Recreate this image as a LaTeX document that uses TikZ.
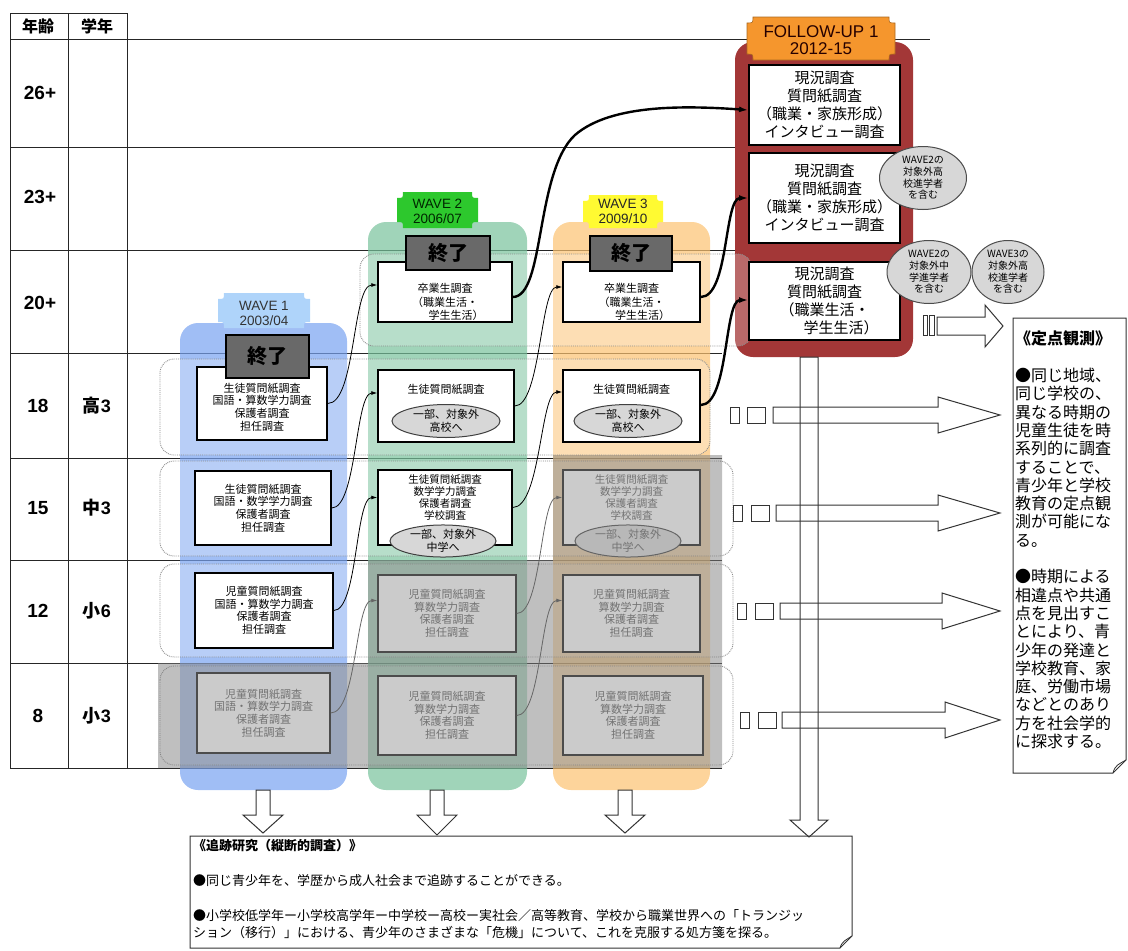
\documentclass[tikz,border=0pt]{standalone}
\usepackage{fontspec}
\setmainfont{Noto Sans CJK JP}
\newfontfamily\latfont{Liberation Sans}
\usetikzlibrary{calc,arrows.meta,shapes.geometric}
\definecolor{bluecol}{RGB}{120,162,241}
\definecolor{greencol}{RGB}{119,194,155}
\definecolor{orangecol}{RGB}{252,194,112}
\definecolor{redcol}{RGB}{163,55,55}
\definecolor{tabblue}{RGB}{175,212,250}
\definecolor{tabgreen}{RGB}{45,200,45}
\definecolor{tabyellow}{RGB}{255,250,50}
\definecolor{taborange}{RGB}{245,150,45}
\definecolor{endgray}{RGB}{105,105,105}
\definecolor{boxgray}{RGB}{203,203,203}
\definecolor{txtgray}{RGB}{115,115,115}
\definecolor{ovalgray}{RGB}{215,215,215}
\newcommand{\myfs}[2]{\fontsize{#1}{#2}\selectfont}
\newcommand{\plaque}[5]{\path[#5] (#1,#2+6) .. controls (#1+6,#2+6) .. (#1+6,#2) -- (#3-6,#2) .. controls (#3-6,#2+6) .. (#3,#2+6) -- (#3,#4-6) .. controls (#3-6,#4-6) .. (#3-6,#4) -- (#1+6,#4) .. controls (#1+6,#4-6) .. (#1,#4-6) -- cycle;}
\newcommand{\harrow}[4]{\draw[fatarrow] (#1,#4-8) -- (#2,#4-8) -- (#2,#4-18) -- (#3,#4) -- (#2,#4+18) -- (#2,#4+8) -- (#1,#4+8) -- cycle;}
\newcommand{\darrow}[4]{\draw[fatarrow] (#1-7,#2) -- (#1+7,#2) -- (#1+7,#3) -- (#1+20,#3) -- (#1,#4) -- (#1-20,#3) -- (#1-7,#3) -- cycle;}
\begin{document}
\begin{tikzpicture}[x=1pt,y=-1pt,
  wbox/.style={draw=black, line width=1.5pt, fill=white, align=center, inner sep=0pt, font=\myfs{11}{12.6}},
  gbox/.style={draw=black!70, line width=1.5pt, fill=boxgray, text=txtgray, align=center, inner sep=0pt, font=\myfs{11}{12.6}},
  btxt/.style={inner sep=0pt, align=center, font=\myfs{11}{13.5}},
  fbox/.style={draw=black, line width=1.8pt, fill=white, align=center, inner sep=0pt, font=\myfs{15}{18}},
  endbox/.style={draw=black, line width=1.2pt, fill=endgray, inner sep=0pt, font=\myfs{20}{22}\bfseries},
  oval/.style={ellipse, draw=black!75, line width=1pt, fill=ovalgray, align=center, inner sep=0pt, font=\myfs{11}{12.5}},
  goval/.style={ellipse, draw=black!60, line width=1pt, fill=black!28, text=txtgray, align=center, inner sep=0pt, font=\myfs{11}{12.5}},
  note/.style={ellipse, draw=black!70, line width=1pt, fill=ovalgray, align=center, inner sep=0pt, font=\myfs{10}{11.8}},
  rowrect/.style={draw=black!45, densely dotted, line width=0.9pt, rounded corners=14pt, fill=white, fill opacity=0.25},
  conn/.style={-{Latex[length=6pt,width=4pt]}, line width=0.8pt},
  gconn/.style={-{Latex[length=6pt,width=4pt]}, line width=0.8pt, draw=black!60},
  tconn/.style={-{Latex[length=9pt,width=6pt]}, line width=2.4pt},
  fatarrow/.style={draw=black!80, line width=1pt},
  tabtxt/.style={align=center, inner sep=0pt, font=\latfont\myfs{13.5}{15}},
  lbl/.style={inner sep=0pt, font=\myfs{16}{18}\bfseries},
  num/.style={inner sep=0pt, font=\latfont\myfs{19}{20}\bfseries},
  gnum/.style={inner sep=0pt, font=\myfs{18}{20}\bfseries}]
\useasboundingbox (0,0) rectangle (1128,951);
% ---- table
\draw[line width=1pt, black!85] (10,13) rectangle (127,768);
\draw[line width=1pt, black!85] (68,13) -- (68,768);
\draw[line width=1pt, black!85] (10,39) -- (930,39);
\draw[line width=1pt, black!85] (10,147) -- (740,147);
\draw[line width=1pt, black!85] (10,250) -- (740,250);
\foreach \yy in {353,458,560,663,768} \draw[line width=1pt, black!85] (10,\yy) -- (722,\yy);
\node[lbl] (h1) at (38,26) {年齢};
\node[lbl] (h2) at (97,26) {学年};
\node[num] (a26) at (40,93) {26+};
\node[num] (a23) at (40,197) {23+};
\node[num] (a20) at (40,303) {20+};
\node[num] (a18) at (38,406) {18};
\node[gnum] (g18) at (97,406) {高{\latfont 3}};
\node[num] (a15) at (38,508) {15};
\node[gnum] (g15) at (97,508) {中{\latfont 3}};
\node[num] (a12) at (38,611) {12};
\node[gnum] (g12) at (97,611) {小{\latfont 6}};
\node[num] (a8) at (38,716) {8};
\node[gnum] (g8) at (97,716) {小{\latfont 3}};
% ---- wave columns
\fill[bluecol, fill opacity=0.7, rounded corners=18pt] (180,323) rectangle (347,790);
\fill[greencol, fill opacity=0.7, rounded corners=18pt] (368,222) rectangle (527,790);
\fill[orangecol, fill opacity=0.7, rounded corners=18pt] (553,222) rectangle (710,790);
% ---- follow-up column
\fill[redcol, rounded corners=18pt] (735,42) rectangle (913,357);
% ---- row rects
\draw[rowrect] (360,254) rectangle (752,346);
\draw[rowrect] (160,359) rectangle (710,455);
\draw[rowrect] (160,461) rectangle (733,556);
\draw[rowrect] (160,564) rectangle (733,657);
\draw[rowrect] (160,666) rectangle (733,765);
% ---- gray overlay
\fill[gray, fill opacity=0.5] (158,663) -- (368,663) -- (368,560) -- (553,560) -- (553,455) -- (722,455) -- (722,768) -- (158,768) -- cycle;
% ---- tabs
\plaque{218}{293}{310}{328}{fill=tabblue}
\plaque{397}{192}{478}{228}{fill=tabgreen}
\plaque{583}{195}{663}{228}{fill=tabyellow}
\plaque{747}{17}{895}{60}{fill=taborange, draw=taborange!70!black, line width=0.6pt}
\node[tabtxt, text=black!80] (t1) at (264,313) {WAVE 1\\2003/04};
\node[tabtxt, text=black!85!green] (t2) at (437.5,211) {WAVE 2\\2006/07};
\node[tabtxt, text=black!85] (t3) at (623,211) {WAVE 3\\2009/10};
\node[tabtxt, text=black!85!red, font=\latfont\myfs{17}{17.5}] (t4) at (821,40) {FOLLOW-UP 1\\2012-15};
% ---- wave 1 boxes
\node[wbox, minimum width=130, minimum height=73] (b1r18) at (262,403.5) {};
\node[btxt, font=\myfs{11}{12.6}] (b1r18t) at (262,407) {生徒質問紙調査\\国語・算数学力調査\\保護者調査\\担任調査};
\node[wbox, minimum width=136, minimum height=74] (b1r15) at (263,508) {生徒質問紙調査\\国語・数学学力調査\\保護者調査\\担任調査};
\node[wbox, minimum width=138, minimum height=75] (b1r12) at (264,610.5) {児童質問紙調査\\国語・算数学力調査\\保護者調査\\担任調査};
\node[gbox, minimum width=133, minimum height=80] (b1r8) at (263.5,713) {児童質問紙調査\\国語・算数学力調査\\保護者調査\\担任調査};
% ---- wave 2 boxes
\node[wbox, minimum width=134, minimum height=60] (b2r20) at (445,292) {};
\node[btxt] (b2r20t) at (445,302) {卒業生調査\\（職業生活・\\\hspace*{2em}学生生活）};
\node[wbox, minimum width=136, minimum height=72] (b2r18) at (446,406) {};
\node[btxt] (b2r18t) at (446,389) {生徒質問紙調査};
\node[oval, minimum width=108, minimum height=33] (o2r18) at (446,421) {一部、対象外\\高校へ};
\node[wbox, minimum width=134, minimum height=75] (b2r15) at (445,507.5) {};
\node[btxt, font=\myfs{10.5}{12.3}] (b2r15t) at (445,497.5) {生徒質問紙調査\\数学学力調査\\保護者調査\\学校調査};
\node[oval, minimum width=106, minimum height=30] (o2r15) at (443,541) {一部、対象外\\中学へ};
\node[gbox, minimum width=138, minimum height=77] (b2r12) at (447,613.5) {児童質問紙調査\\算数学力調査\\保護者調査\\担任調査};
\node[gbox, minimum width=138, minimum height=79] (b2r8) at (447,715.5) {児童質問紙調査\\算数学力調査\\保護者調査\\担任調査};
% ---- wave 3 boxes
\node[wbox, minimum width=137, minimum height=60] (b3r20) at (631.5,292) {};
\node[btxt] (b3r20t) at (631.5,302) {卒業生調査\\（職業生活・\\\hspace*{2em}学生生活）};
\node[wbox, minimum width=137, minimum height=72] (b3r18) at (631.5,406) {};
\node[btxt] (b3r18t) at (631.5,389) {生徒質問紙調査};
\node[oval, minimum width=108, minimum height=33] (o3r18) at (628,421) {一部、対象外\\高校へ};
\node[gbox, minimum width=137, minimum height=75] (b3r15) at (631.5,507.5) {};
\node[btxt, text=txtgray, font=\myfs{10.5}{12.3}] (b3r15t) at (631.5,497.5) {生徒質問紙調査\\数学学力調査\\保護者調査\\学校調査};
\node[goval, minimum width=106, minimum height=30] (o3r15) at (628,541) {一部、対象外\\中学へ};
\node[gbox, minimum width=137, minimum height=77] (b3r12) at (631.5,613.5) {児童質問紙調査\\算数学力調査\\保護者調査\\担任調査};
\node[gbox, minimum width=140, minimum height=79] (b3r8) at (633,715.5) {児童質問紙調査\\算数学力調査\\保護者調査\\担任調査};
% ---- end boxes
\node[endbox, minimum width=83, minimum height=43] (k1) at (267.5,356.5) {終了};
\node[endbox, minimum width=84, minimum height=34] (k2) at (448,253) {終了};
\node[endbox, minimum width=82, minimum height=35] (k3) at (631,253.5) {終了};
% ---- follow-up boxes
\node[fbox, minimum width=151, minimum height=80] (fA) at (824.5,105) {現況調査\\質問紙調査\\（職業・家族形成）\\インタビュー調査};
\node[fbox, minimum width=151, minimum height=90] (fB) at (824.5,198) {現況調査\\質問紙調査\\（職業・家族形成）\\インタビュー調査};
\node[fbox, minimum width=151, minimum height=78] (fC) at (824.5,301) {現況調査\\質問紙調査\\（職業生活・\\\hspace*{2.2em}学生生活）};
\node[note, minimum width=87, minimum height=63] (n1) at (923,178) {WAVE2の\\対象外高\\校進学者\\を含む};
\node[note, minimum width=84, minimum height=63] (n2) at (929,272) {WAVE2の\\対象外中\\学進学者\\を含む};
\node[note, minimum width=72, minimum height=63] (n3) at (1008,272) {WAVE3の\\対象外高\\校進学者\\を含む};
% ---- thin connectors
\draw[conn] (b1r18.east) .. controls +(28,0) and +(-25,0) .. ($(b2r20.west)+(0,-7)$);
\draw[conn] (b1r15.east) .. controls +(25,0) and +(-22,0) .. ($(b2r18.west)+(0,-13)$);
\draw[conn] (b1r12.east) .. controls +(24,0) and +(-22,0) .. ($(b2r15.west)+(0,-10)$);
\draw[gconn] (b1r8.east) .. controls +(26,0) and +(-22,0) .. ($(b2r12.west)+(0,-13)$);
\draw[conn] (b2r18.east) .. controls +(26,0) and +(-22,0) .. ($(b3r20.west)+(0,-5)$);
\draw[conn] (b2r15.east) .. controls +(28,0) and +(-22,0) .. ($(b3r18.west)+(0,-14)$);
\draw[gconn] (b2r12.east) .. controls +(25,0) and +(-22,0) .. ($(b3r15.west)+(0,-10)$);
\draw[gconn] (b2r8.east) .. controls +(25,0) and +(-22,0) .. ($(b3r12.west)+(0,-13)$);
% ---- thick connectors
\draw[tconn] ($(b2r20.east)+(0,5)$) .. controls (545,297) and (535,172) .. (575,135) .. controls (612,103) and (690,106) .. ($(fA.west)+(0,5)$);
\draw[tconn] ($(b3r20.east)+(0,5)$) .. controls +(28,0) and +(-24,0) .. (fB.west);
\draw[tconn] ($(b3r18.east)+(0,-1)$) .. controls +(28,0) and +(-24,0) .. ($(fC.west)+(0,-1)$);
% ---- block arrows
\draw[fatarrow] (923,315) rectangle (927,335);
\draw[fatarrow] (929,315) rectangle (934,335);
\draw[fatarrow] (937,317) -- (985,317) -- (985,305) -- (1003,326) -- (985,347) -- (985,335) -- (937,335) -- cycle;
\draw[fatarrow] (800,357) -- (818,357) -- (818,820) -- (828,820) -- (809,837) -- (790,820) -- (800,820) -- cycle;
\foreach \xa/\xb/\yc in {730/747/415, 733/751/513, 737/755/611, 740/758/720} {
  \draw[fatarrow] (\xa,\yc-8) rectangle (\xa+9,\yc+8);
  \draw[fatarrow] (\xb,\yc-8) rectangle (\xb+18,\yc+8);
}
\harrow{773}{938}{1000}{415}
\harrow{776}{938}{1000}{513}
\harrow{780}{942}{1000}{611}
\harrow{782}{945}{1000}{720}
\darrow{263}{790}{815}{833}
\darrow{437}{790}{815}{835}
\darrow{625}{790}{815}{833}
% ---- text boxes
\draw[line width=1pt, black!80] (1013,318) -- (1126,318) -- (1126,760) -- (1113,773) -- (1013,773) -- cycle;
\draw[line width=0.8pt, black!80] (1113,773) .. controls (1115,765) and (1119,764) .. (1126,760);
\node[anchor=north west, align=left, inner sep=0pt, font=\myfs{16}{18.3}] (fixed) at (1015,331)
 {{\bfseries 《定点観測》}\\[18.3pt]●同じ地域、\\同じ学校の、\\異なる時期の\\児童生徒を時\\系列的に調査\\することで、\\青少年と学校\\教育の定点観\\測が可能にな\\る。\\[18.3pt]●時期による\\相違点や共通\\点を見出すこ\\とにより、青\\少年の発達と\\学校教育、家\\庭、労働市場\\などとのあり\\方を社会学的\\に探求する。};
\draw[line width=1pt, black!80] (190,836) -- (852,836) -- (852,936) -- (840,948) -- (190,948) -- cycle;
\draw[line width=0.8pt, black!80] (840,948) .. controls (842,941) and (846,940) .. (852,936);
\node[anchor=north west, align=left, inner sep=0pt, font=\myfs{13}{17.5}] (track) at (193,839)
 {{\bfseries 《追跡研究（縦断的調査）》}\\[17.5pt]●同じ青少年を、学歴から成人社会まで追跡することができる。\\[17.5pt]●小学校低学年ー小学校高学年ー中学校ー高校ー実社会／高等教育、学校から職業世界への「トランジッ\\ション（移行）」における、青少年のさまざまな「危機」について、これを克服する処方箋を探る。};
\end{tikzpicture}
\end{document}
